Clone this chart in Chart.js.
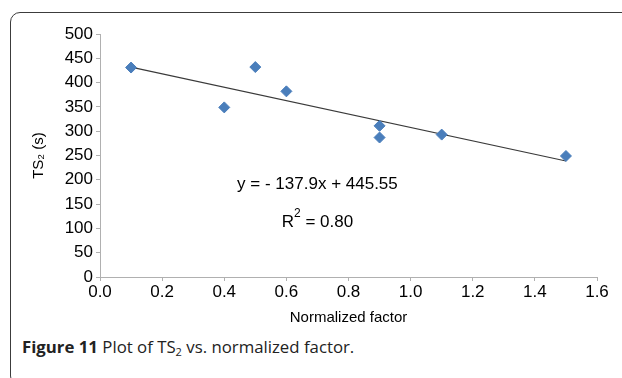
<!DOCTYPE html>
<html>
<head>
<meta charset="utf-8">
<script src="https://cdn.jsdelivr.net/npm/chart.js@4/dist/chart.umd.min.js"></script>
<style>
  html, body { margin: 0; padding: 0; background: #fff; }
  body { width: 622px; height: 378px; position: relative; overflow: hidden; }
  .frame {
    position: absolute; left: 10px; top: 12px; width: 700px; height: 372px;
    border: 1.5px solid #3c3c3c; border-radius: 10px;
  }
  .caption {
    position: absolute; left: 22px; top: 335px;
    font-family: "Open Sans", sans-serif; font-size: 16.8px; color: #222;
    white-space: nowrap;
  }
  .caption b { font-weight: 700; }
  .caption sub { font-size: 11px; vertical-align: -3px; line-height: 0; }
  #chart { position: absolute; left: 0; top: 0; }
</style>
</head>
<body>
<div class="frame"></div>
<div class="caption"><b>Figure 11</b> Plot of TS<sub>2</sub> vs. normalized factor.</div>
<canvas id="chart" width="622" height="378"></canvas>
<script>
const factor = [0.1, 0.4, 0.5, 0.6, 0.9, 0.9, 1.1, 1.5]
const ts2 = [431, 349, 432, 382, 311, 287, 293, 249]

// linear trendline y = -137.9x + 445.55, endpoints at first and last x
const trendX = [0.1, 1.5]
const trendY = [431.8, 238.7]

const equationText = 'y = - 137.9x + 445.55'
const r2Value = '0.80'

const ctx = document.getElementById('chart').getContext('2d')
const fontFamily = '"Liberation Sans", Arial, sans-serif'

const labelPlugin = {
    id: 'trendLabels',
    afterDatasetsDraw(chart) {
        const x = chart.scales.x
        const y = chart.scales.y
        const c = chart.ctx
        c.save()
        c.fillStyle = '#000'
        c.textBaseline = 'middle'
        c.textAlign = 'center'
        c.font = '17px ' + fontFamily
        c.fillText(equationText, x.getPixelForValue(0.7), y.getPixelForValue(191))

        // R² with a raised 2
        const cx = x.getPixelForValue(0.7)
        const cy = y.getPixelForValue(113)
        c.textAlign = 'left'
        c.font = '17px ' + fontFamily
        const wR = c.measureText('R').width
        const wRest = c.measureText(' = ' + r2Value).width
        c.font = '12px ' + fontFamily
        const w2 = c.measureText('2').width
        let left = cx - (wR + w2 + wRest) / 2
        c.font = '17px ' + fontFamily
        c.fillText('R', left, cy)
        c.font = '12px ' + fontFamily
        c.fillText('2', left + wR, cy - 8)
        c.font = '17px ' + fontFamily
        c.fillText(' = ' + r2Value, left + wR + w2, cy)
        c.restore()
    }
}

new Chart(ctx, {
    type: 'scatter',
    data: {
        datasets: [{
            label: 'TS2',
            data: factor.map((f, i) => ({ x: f, y: ts2[i] })),
            pointStyle: 'rectRot',
            pointRadius: 5.5,
            pointHoverRadius: 5.5,
            backgroundColor: '#4A7EBB',
            borderColor: '#4A7EBB',
            borderWidth: 1
        }, {
            label: 'trend',
            type: 'line',
            data: trendX.map((f, i) => ({ x: f, y: trendY[i] })),
            borderColor: '#3a3a3a',
            borderWidth: 1.2,
            pointRadius: 0,
            fill: false
        }]
    },
    options: {
        responsive: false,
        animation: false,
        events: [],
        layout: { padding: { left: 0, top: 34, right: 25, bottom: 51 } },
        plugins: {
            legend: { display: false },
            tooltip: { enabled: false }
        },
        scales: {
            x: {
                type: 'linear',
                min: 0,
                max: 1.6,
                afterFit: scale => { scale.height = 50 },
                ticks: {
                    stepSize: 0.2,
                    color: '#000',
                    font: { family: fontFamily, size: 17 },
                    padding: 1,
                    maxRotation: 0,
                    callback: v => v.toFixed(1)
                },
                grid: { drawOnChartArea: false, drawTicks: true, tickLength: 4, color: '#b0b0b0' },
                border: { display: true, color: '#b0b0b0', width: 1 },
                title: {
                    display: true,
                    text: 'Normalized factor',
                    color: '#000',
                    font: { family: fontFamily, size: 15 },
                    padding: { top: 0, bottom: 0 }
                }
            },
            y: {
                min: 0,
                max: 500,
                afterFit: scale => { scale.width = 100 },
                ticks: {
                    stepSize: 50,
                    color: '#000',
                    font: { family: fontFamily, size: 17 },
                    padding: 3
                },
                grid: { drawOnChartArea: false, drawTicks: true, tickLength: 4, color: '#b0b0b0' },
                border: { display: true, color: '#b0b0b0', width: 1 },
                title: {
                    display: true,
                    text: 'TS₂ (s)',
                    color: '#000',
                    font: { family: fontFamily, size: 15 },
                    padding: { top: 30, bottom: 0 }
                }
            }
        }
    },
    plugins: [labelPlugin]
})
</script>
</body>
</html>
